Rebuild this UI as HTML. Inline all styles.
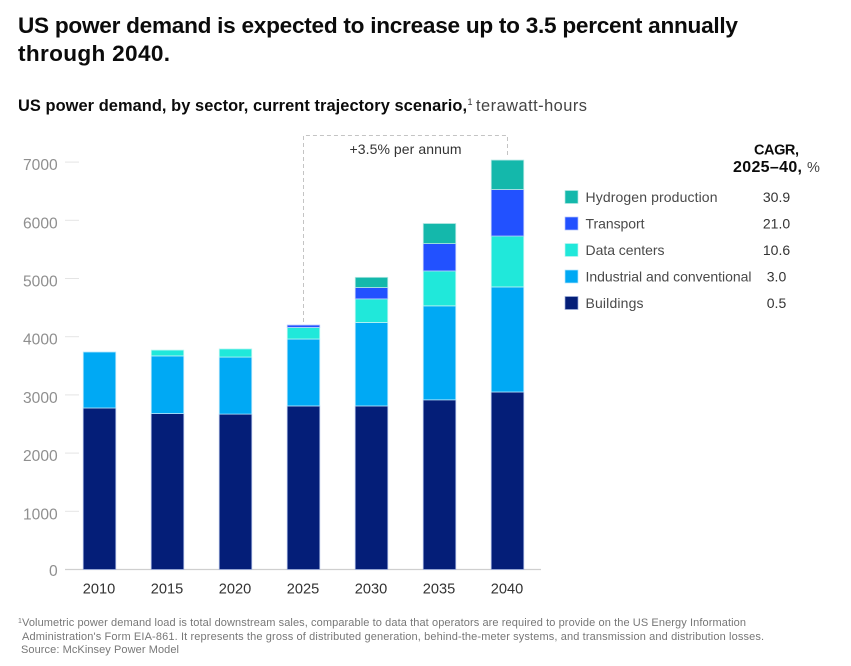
<!DOCTYPE html>
<html lang="en">
<head>
<meta charset="utf-8">
<title>US power demand</title>
<style>
html,body{margin:0;padding:0;background:#fff;width:851px;height:666px;overflow:hidden}
svg{display:block}
text{font-family:"Liberation Sans",sans-serif}
</style>
</head>
<body>
<svg id="chart" width="851" height="666" viewBox="0 0 851 666">
  <text x="18" y="33" font-size="22.6" font-weight="bold" fill="#0b0b0b" textLength="720" lengthAdjust="spacing">US power demand is expected to increase up to 3.5 percent annually</text>
  <text x="18" y="61" font-size="22.6" font-weight="bold" fill="#0b0b0b" textLength="152" lengthAdjust="spacing">through 2040.</text>
  <text x="18" y="111" font-size="16.4" font-weight="bold" fill="#0b0b0b" textLength="449" lengthAdjust="spacing">US power demand, by sector, current trajectory scenario,</text>
  <text x="467.5" y="105" font-size="9" fill="#333">1</text>
  <text x="476" y="111" font-size="16.4" fill="#444" textLength="111" lengthAdjust="spacing">terawatt-hours</text>

  <g id="ticks"></g>
  <g id="bars"></g>
  <g id="xlabels"></g>

  <path id="bracket" fill="none" stroke="#c4c4c4" stroke-width="1" stroke-dasharray="4 3"></path>
  <text x="405.5" y="154" font-size="14" fill="#333" text-anchor="middle" textLength="112" lengthAdjust="spacing">+3.5% per annum</text>

  <text x="799" y="154.5" font-size="14.5" font-weight="bold" fill="#0b0b0b" text-anchor="end" textLength="45" lengthAdjust="spacing">CAGR,</text>
  <text x="733" y="172" font-size="16" font-weight="bold" fill="#0b0b0b" textLength="69" lengthAdjust="spacing">2025–40,</text>
  <text x="807" y="172" font-size="14.5" fill="#444">%</text>

  <g id="legend"></g>

  <text x="18" y="623" font-size="7" fill="#777">1</text>
  <text x="22" y="626" font-size="11" fill="#777" textLength="724" lengthAdjust="spacing">Volumetric power demand load is total downstream sales, comparable to data that operators are required to provide on the US Energy Information</text>
  <text x="22" y="640" font-size="11" fill="#777" textLength="742" lengthAdjust="spacing">Administration's Form EIA-861. It represents the gross of distributed generation, behind-the-meter systems, and transmission and distribution losses.</text>
  <text x="21" y="653" font-size="11" fill="#777" textLength="158" lengthAdjust="spacing">Source: McKinsey Power Model</text>
</svg>
<script>
var years = ['2010', '2015', '2020', '2025', '2030', '2035', '2040'];
var buildings = [2775, 2680, 2670, 2810, 2810, 2915, 3050];
var industrial = [962, 990, 980, 1150, 1435, 1615, 1805];
var dataCenters = [0, 100, 140, 200, 405, 600, 875];
var transport = [0, 0, 0, 40, 195, 470, 800];
var hydrogen = [0, 0, 0, 0, 175, 345, 505];
var yTicks = [0, 1000, 2000, 3000, 4000, 5000, 6000, 7000];
var legendNames = ['Hydrogen production', 'Transport', 'Data centers', 'Industrial and conventional', 'Buildings'];
var cagrValues = ['30.9', '21.0', '10.6', '3.0', '0.5'];

var NS = 'http://www.w3.org/2000/svg';
function yScale(v) { return 569.5 - v * 0.0582; }
function xScale(i) { return 99.5 + i * 68; }
var BAR_W = 32.5;

function make(tag, attrs, parent, txt) {
  var el = document.createElementNS(NS, tag);
  for (var k in attrs) el.setAttribute(k, attrs[k]);
  if (txt !== undefined) el.textContent = txt;
  parent.appendChild(el);
  return el;
}

var tickG = document.getElementById('ticks');
yTicks.forEach(function (t) {
  var y = yScale(t);
  var line = make('line', { x1: 65, x2: t === 0 ? 541 : 79, y1: y, y2: y, stroke: t === 0 ? '#cfcfcf' : '#e4e4e4', 'stroke-width': t === 0 ? 1.3 : 1 }, tickG);
  
  
  var label = make('text', { x: 57.7, y: y + (t === 0 ? 6.5 : 8), 'font-size': 15.6, fill: '#8f8f8f', 'text-anchor': 'end' }, tickG, String(t));
  
  
});

var series = [
  { key: 'buildings', values: buildings, color: '#041e78', edge: '#9fb0dc' },
  { key: 'industrial', values: industrial, color: '#00a9f4', edge: '#b5e6fc' },
  { key: 'data-centers', values: dataCenters, color: '#20e8da', edge: '#bdf6f1' },
  { key: 'transport', values: transport, color: '#2251ff', edge: '#b4c4fc' },
  { key: 'hydrogen', values: hydrogen, color: '#14b8ab', edge: '#b5e8e3' }
];

var barG = document.getElementById('bars');
years.forEach(function (yr, i) {
  var base = 0;
  series.forEach(function (s) {
    var v = s.values[i];
    if (v <= 0) return;
    var y0 = yScale(base);
    var y1 = yScale(base + v);
    var r = make('rect', { x: xScale(i) - BAR_W / 2, y: y1, width: BAR_W, height: y0 - y1, fill: s.color, stroke: s.edge, 'stroke-width': 0.8 }, barG);
    
    
    base += v;
  });
  var lab = make('text', { x: xScale(i) - 0.5, y: 593.3, 'font-size': 14.6, fill: '#333', 'text-anchor': 'middle' }, document.getElementById('xlabels'), yr);
  
  
});

function totalAt(i) {
  return series.reduce(function (sum, s) { return sum + s.values[i]; }, 0);
}
var i25 = years.indexOf('2025');
var i40 = years.indexOf('2040');
document.getElementById('bracket').setAttribute('d',
  'M' + (xScale(i25)) + ' ' + (yScale(totalAt(i25)) - 3) +
  'V135.5H' + (xScale(i40)) + 'V' + (yScale(totalAt(i40)) - 4));

var legendG = document.getElementById('legend');
var legendColors = series.slice().reverse();
var legendWidths = [132, 59, 79, 166, 58];
legendNames.forEach(function (name, i) {
  var cy = 197 + i * 26.5;
  var sw = make('rect', { x: 565, y: cy - 6.5, width: 13, height: 13, fill: legendColors[i].color, stroke: legendColors[i].edge, 'stroke-width': 0.7 }, legendG);
  
  
  var t = make('text', { x: 585.5, y: cy + 5, 'font-size': 14, fill: '#4a4a4a', textLength: legendWidths[i], lengthAdjust: 'spacing' }, legendG, name);
  
  
  var c = make('text', { x: 776.5, y: cy + 5, 'font-size': 14, fill: '#333', 'text-anchor': 'middle' }, legendG, cagrValues[i]);
  
  
});
</script>
</body>
</html>
